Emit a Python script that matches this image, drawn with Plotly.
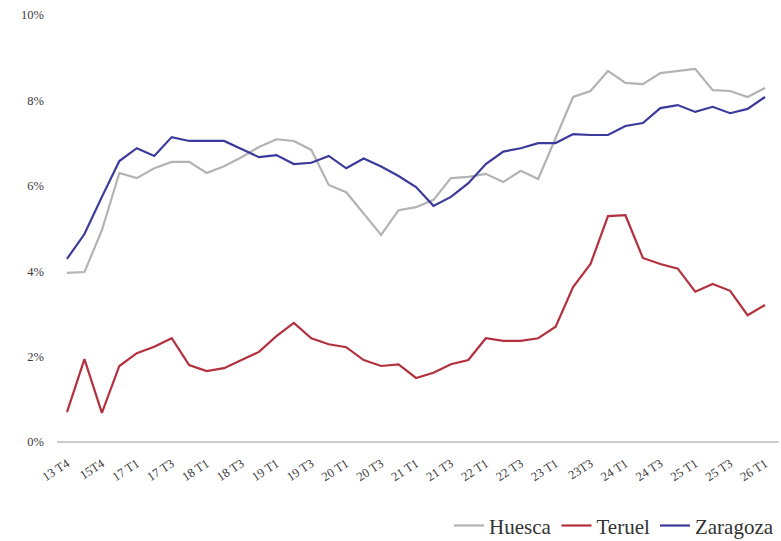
import plotly.graph_objects as go

periods = ["13 T4", "14 T4", "15T4", "16 T4",
           "17 T1", "17 T2", "17 T3", "17 T4",
           "18 T1", "18 T2", "18 T3", "18 T4",
           "19 T1", "19 T2", "19 T3", "19 T4",
           "20 T1", "20 T2", "20 T3", "20 T4",
           "21 T1", "21 T2", "21 T3", "21 T4",
           "22 T1", "22 T2", "22 T3", "22 T4",
           "23 T1", "23 T2", "23T3", "23 T4",
           "24 T1", "24 T2", "24 T3", "24 T4",
           "25 T1", "25 T2", "25 T3", "25 T4",
           "26 T1"]

huesca = [3.96, 3.98, 4.96, 6.30, 6.18, 6.41, 6.56, 6.56, 6.30, 6.46,
          6.67, 6.91, 7.09, 7.05, 6.84, 6.02, 5.85, 5.36, 4.85, 5.43,
          5.50, 5.67, 6.18, 6.21, 6.28, 6.09, 6.35, 6.16, 7.14, 8.08,
          8.22, 8.69, 8.41, 8.38, 8.64, 8.69, 8.74, 8.24, 8.22, 8.08, 8.29]

teruel = [0.70, 1.94, 0.68, 1.78, 2.08, 2.23, 2.43, 1.80, 1.66, 1.73,
          1.92, 2.11, 2.48, 2.79, 2.43, 2.29, 2.22, 1.92, 1.78, 1.82,
          1.50, 1.62, 1.82, 1.92, 2.43, 2.37, 2.37, 2.43, 2.70, 3.63,
          4.17, 5.29, 5.31, 4.31, 4.17, 4.06, 3.52, 3.70, 3.54, 2.97, 3.21]

zaragoza = [4.29, 4.87, 5.74, 6.58, 6.88, 6.70, 7.14, 7.05, 7.05, 7.05,
            6.86, 6.67, 6.72, 6.51, 6.54, 6.70, 6.41, 6.64, 6.45, 6.23,
            5.97, 5.53, 5.74, 6.06, 6.51, 6.80, 6.88, 7.00, 7.00, 7.21,
            7.19, 7.19, 7.40, 7.47, 7.82, 7.89, 7.73, 7.85, 7.70, 7.80, 8.08]

tick_labels = periods[::2]
y_ticks = [0, 2, 4, 6, 8, 10]

font_family = "Liberation Serif, DejaVu Serif, serif"

fig = go.Figure()
fig.add_trace(go.Scatter(x=periods, y=huesca, name="Huesca", mode="lines",
                         line=dict(color="#b3b3b3", width=2.2)))
fig.add_trace(go.Scatter(x=periods, y=teruel, name="Teruel", mode="lines",
                         line=dict(color="#b3303e", width=2.2)))
fig.add_trace(go.Scatter(x=periods, y=zaragoza, name="Zaragoza", mode="lines",
                         line=dict(color="#3b3a9c", width=2.2)))

fig.update_layout(
    width=781, height=541,
    margin=dict(l=57, r=2, t=15, b=99, autoexpand=False),
    paper_bgcolor="white", plot_bgcolor="white",
    font=dict(family=font_family, color="#3a3a3a", size=12),
    showlegend=True,
    legend=dict(orientation="h", x=1.0, xanchor="right",
                yref="container", y=0.028, yanchor="middle",
                font=dict(size=21, color="#333333"),
                bgcolor="rgba(0,0,0,0)"),
    xaxis=dict(type="category", range=[-0.573, 40.8],
               tickmode="array", tickvals=tick_labels, ticktext=tick_labels,
               tickangle=-33, showgrid=False, showline=False, zeroline=False,
               ticks="", ticklabelstandoff=11, automargin=False,
               tickfont=dict(size=12.5, color="#3a3a3a")),
    yaxis=dict(range=[0, 10.0], tickvals=y_ticks,
               ticktext=[f"{v}%" for v in y_ticks],
               showgrid=False, zeroline=True, zerolinecolor="#cccccc",
               zerolinewidth=2, showline=False, ticks="",
               ticklabelstandoff=12, automargin=False,
               tickfont=dict(size=12.5, color="#3a3a3a")),
)

fig.write_html("out.html", config={"displayModeBar": False},
               post_script="document.body.style.margin='0';")
